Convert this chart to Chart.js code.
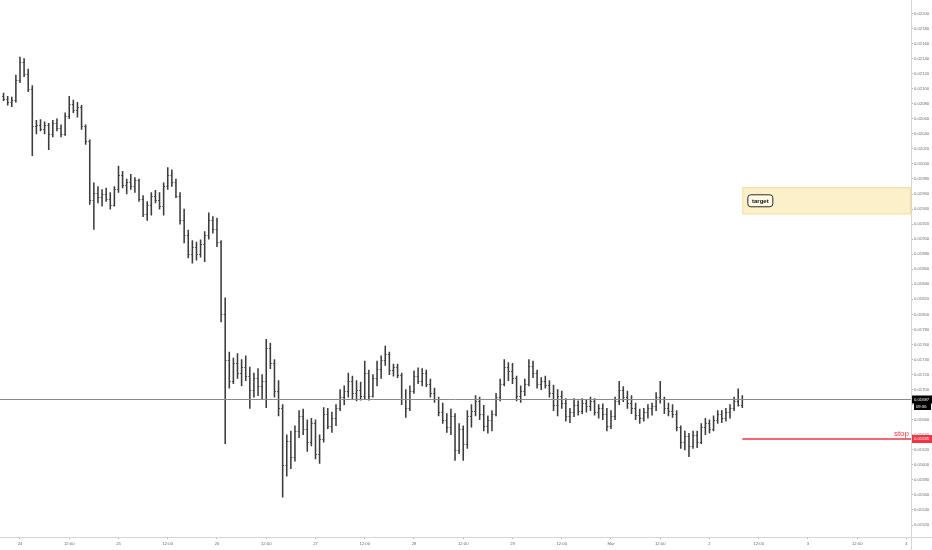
<!DOCTYPE html>
<html>
<head>
<meta charset="utf-8">
<script src="https://cdn.jsdelivr.net/npm/chart.js@4.4.0/dist/chart.umd.min.js"></script>
<style>
  html, body { margin: 0; padding: 0; background: #fff; }
  canvas { display: block; }
</style>
</head>
<body>
<canvas id="priceChart" width="932" height="550"></canvas>
<script>
// hourly bars, first bar is Feb 23 20:00 (hour -4 from Feb 24 00:00)
const startHour = -4;

// prices in units of 0.00001
const opens = [
  2090,2086,2082,2085,2112,2136,2120,2100,2050,2052,
  2047,2052,2040,2054,2048,2040,2064,2080,2072,2076,
  2050,2030,1952,1962,1956,1960,1954,1946,1966,1985,
  1972,1976,1970,1978,1954,1934,1945,1958,1952,1944,
  1970,1985,1976,1958,1926,1905,1880,1890,1880,1894,
  1905,1925,1914,1896,1800,1740,1712,1735,1722,1730,
  1718,1700,1715,1705,1712,1755,1735,1698,1675,1600,
  1632,1610,1645,1665,1648,1630,1655,1615,1635,1668,
  1652,1662,1675,1690,1698,1712,1695,1700,1692,1722,
  1692,1715,1728,1740,1748,1726,1730,1720,1688,1675,
  1698,1718,1712,1722,1708,1695,1688,1670,1660,1650,
  1665,1620,1648,1628,1665,1672,1685,1668,1652,1660,
  1668,1690,1708,1730,1725,1715,1692,1698,1708,1732,
  1722,1708,1712,1706,1696,1680,1692,1682,1665,1670,
  1680,1672,1682,1678,1685,1670,1676,1668,1652,1665,
  1685,1700,1690,1682,1676,1666,1662,1670,1675,1678,
  1690,1688,1676,1672,1668,1650,1630,1638,1625,1640,
  1630,1650,1655,1648,1660,1668,1662,1670,1675,1685,
  1680
];
const highs = [
  2094,2090,2089,2118,2142,2140,2126,2104,2058,2059,
  2056,2054,2058,2060,2052,2068,2090,2085,2082,2078,
  2052,2032,1975,1970,1966,1968,1962,1970,1997,1990,
  1980,1986,1982,1980,1958,1950,1962,1965,1962,1975,
  1995,1992,1980,1962,1940,1912,1898,1896,1899,1910,
  1935,1930,1928,1898,1822,1750,1742,1748,1740,1745,
  1730,1722,1728,1720,1767,1762,1740,1712,1680,1640,
  1645,1652,1672,1674,1660,1662,1660,1640,1676,1675,
  1670,1680,1700,1705,1722,1718,1712,1710,1738,1726,
  1720,1738,1745,1758,1750,1734,1734,1722,1700,1705,
  1725,1729,1728,1726,1714,1702,1690,1682,1668,1674,
  1668,1655,1652,1672,1680,1692,1690,1679,1665,1672,
  1695,1714,1740,1736,1735,1718,1705,1714,1740,1738,
  1726,1716,1718,1712,1706,1700,1698,1688,1675,1688,
  1685,1688,1686,1690,1688,1680,1681,1675,1672,1690,
  1711,1704,1698,1692,1682,1674,1675,1680,1682,1696,
  1711,1690,1682,1680,1672,1652,1645,1642,1645,1645,
  1655,1662,1660,1665,1672,1672,1675,1680,1690,1701,
  1692
];
const lows = [
  2084,2078,2076,2082,2108,2116,2096,2011,2040,2044,
  2040,2019,2036,2044,2036,2038,2060,2068,2062,2046,
  2026,1946,1913,1948,1944,1950,1940,1944,1962,1968,
  1960,1966,1962,1950,1930,1925,1932,1948,1940,1932,
  1966,1970,1955,1920,1895,1875,1868,1872,1876,1870,
  1900,1908,1890,1790,1628,1702,1708,1715,1705,1712,
  1675,1690,1692,1688,1676,1728,1690,1665,1557,1585,
  1595,1605,1636,1640,1618,1625,1608,1602,1630,1648,
  1643,1652,1672,1680,1690,1688,1685,1686,1688,1686,
  1690,1705,1715,1732,1720,1718,1716,1680,1663,1672,
  1695,1708,1705,1704,1690,1683,1665,1655,1643,1640,
  1606,1615,1606,1622,1650,1665,1660,1645,1642,1645,
  1665,1685,1705,1712,1708,1685,1683,1692,1705,1716,
  1702,1700,1702,1690,1672,1665,1675,1658,1656,1664,
  1666,1668,1670,1672,1666,1662,1660,1645,1648,1660,
  1680,1684,1675,1668,1660,1655,1658,1662,1666,1672,
  1682,1668,1665,1663,1645,1622,1620,1611,1622,1623,
  1628,1640,1642,1645,1655,1656,1658,1662,1672,1678,
  1676
];
const closes = [
  2086,2082,2085,2112,2136,2120,2100,2050,2052,2047,
  2052,2040,2054,2048,2040,2064,2080,2072,2076,2050,
  2030,1952,1962,1956,1960,1954,1946,1966,1985,1972,
  1976,1970,1978,1954,1934,1945,1958,1952,1944,1970,
  1985,1976,1958,1926,1905,1880,1890,1880,1894,1905,
  1925,1914,1896,1800,1740,1712,1735,1722,1730,1718,
  1700,1715,1705,1712,1755,1735,1698,1675,1600,1632,
  1610,1645,1665,1648,1630,1655,1615,1635,1668,1652,
  1662,1675,1690,1698,1712,1695,1700,1692,1722,1692,
  1715,1728,1740,1748,1726,1730,1720,1688,1675,1698,
  1718,1712,1722,1708,1695,1688,1670,1660,1650,1665,
  1620,1648,1628,1665,1672,1685,1668,1652,1660,1668,
  1690,1708,1730,1725,1715,1692,1698,1708,1732,1722,
  1708,1712,1706,1696,1680,1692,1682,1665,1670,1680,
  1672,1682,1678,1685,1670,1676,1668,1652,1665,1685,
  1700,1690,1682,1676,1666,1662,1670,1675,1678,1690,
  1688,1676,1672,1668,1650,1630,1638,1625,1640,1630,
  1650,1655,1648,1660,1668,1662,1670,1675,1685,1680,
  1687
];

// x axis: hours from Feb 24 00:00, a label every 12 hours
const dayLabels = ['24', '25', '26', '27', '28', '29', 'Mar', '2', '3', '4'];
const halfDayLabel = '12:00';

const lastPrice = 0.01687;
const lastPriceTimer = '09:36';
const stopPrice = 0.01635;
const stopLabel = 'stop';
const targetLow = 0.01933;
const targetHigh = 0.01969;
const targetLabel = 'target';
const zoneStartHour = 176;

const unit = 100000;
const barColor = '#3c3c3c';
const axisFont = { family: 'Liberation Sans', size: 4.2 };

const bars = lows.map((lo, i) => ({ x: startHour + i, y: [lo / unit, highs[i] / unit] }));

// open/close ticks on each bar
const ohlcTicks = {
    id: 'ohlcTicks',
    afterDatasetsDraw(chart) {
        const ctx = chart.ctx;
        const yScale = chart.scales.y;
        const meta = chart.getDatasetMeta(0);
        ctx.save();
        ctx.strokeStyle = barColor;
        ctx.lineWidth = 0.9;
        ctx.beginPath();
        meta.data.forEach((bar, i) => {
            const yo = Math.round(yScale.getPixelForValue(opens[i] / unit)) + 0.5;
            const yc = Math.round(yScale.getPixelForValue(closes[i] / unit)) + 0.5;
            ctx.moveTo(bar.x - 1.4, yo);
            ctx.lineTo(bar.x, yo);
            ctx.moveTo(bar.x, yc);
            ctx.lineTo(bar.x + 1.4, yc);
        });
        ctx.stroke();
        ctx.restore();
    }
};

function labelBox(ctx, x, yc, w, h, fill, text, color) {
    ctx.fillStyle = fill;
    ctx.fillRect(x, yc - h / 2, w, h);
    ctx.fillStyle = color;
    ctx.font = '4.2px "Liberation Sans"';
    ctx.textAlign = 'left';
    ctx.textBaseline = 'middle';
    ctx.fillText(text, x + 2, yc + 0.3);
}

// target zone, price line, stop line and their axis tags
const annotations = {
    id: 'annotations',
    beforeDatasetsDraw(chart) {
        const { ctx, chartArea, scales: { x, y } } = chart;
        const left = x.getPixelForValue(zoneStartHour);
        const top = y.getPixelForValue(targetHigh);
        const bottom = y.getPixelForValue(targetLow);
        ctx.save();
        ctx.fillStyle = 'rgba(249, 222, 140, 0.45)';
        ctx.fillRect(left, top, chartArea.right - left, bottom - top);
        ctx.strokeStyle = 'rgba(235, 200, 110, 0.5)';
        ctx.lineWidth = 1;
        ctx.strokeRect(left + 0.5, top + 0.5, chartArea.right - left - 1, bottom - top - 1);
        // target tag
        const tx = left + 5, ty = (top + bottom) / 2;
        ctx.beginPath();
        ctx.roundRect(tx + 0.5, ty - 6, 25, 12, 3);
        ctx.fillStyle = 'rgba(255, 250, 230, 0.9)';
        ctx.fill();
        ctx.strokeStyle = '#2b2b2b';
        ctx.stroke();
        ctx.fillStyle = '#111';
        ctx.font = 'bold 6px "Liberation Sans"';
        ctx.textAlign = 'center';
        ctx.textBaseline = 'middle';
        ctx.fillText(targetLabel, tx + 13, ty + 0.5);
        ctx.restore();
    },
    afterDraw(chart) {
        const { ctx, chartArea, scales: { x, y } } = chart;
        ctx.save();
        // frame lines of the price and time scales
        ctx.strokeStyle = '#d6d6d6';
        ctx.lineWidth = 1;
        ctx.beginPath();
        ctx.moveTo(chartArea.right + 0.5, 0);
        ctx.lineTo(chartArea.right + 0.5, chart.height);
        ctx.moveTo(0, chartArea.bottom + 0.5);
        ctx.lineTo(chart.width, chartArea.bottom + 0.5);
        ctx.stroke();

        // last price line
        const yl = Math.round(y.getPixelForValue(lastPrice)) + 0.5;
        ctx.strokeStyle = '#8a8a8a';
        ctx.beginPath();
        ctx.moveTo(chartArea.left, yl);
        ctx.lineTo(chartArea.right, yl);
        ctx.stroke();

        // stop line
        const ys = Math.round(y.getPixelForValue(stopPrice));
        const sx = x.getPixelForValue(zoneStartHour);
        ctx.fillStyle = '#f23645';
        ctx.fillRect(sx, ys - 0.75, chartArea.right - sx, 1.5);
        ctx.font = '8px "Liberation Sans"';
        ctx.textAlign = 'right';
        ctx.textBaseline = 'bottom';
        ctx.fillText(stopLabel, chartArea.right - 2, ys - 1);

        // axis tags
        const ax = chartArea.right + 1;
        labelBox(ctx, ax, yl, chart.width - ax, 8, '#000', lastPrice.toFixed(5), '#fff');
        labelBox(ctx, ax + 2, yl + 7, 17, 7, '#000', lastPriceTimer, '#fff');
        labelBox(ctx, ax, ys, chart.width - ax, 8, '#f23645', stopPrice.toFixed(5), '#fff');
        ctx.restore();
    }
};

new Chart(document.getElementById('priceChart'), {
    type: 'bar',
    data: {
        datasets: [
            {
                data: bars,
                backgroundColor: barColor,
                borderWidth: 0,
                barThickness: 0.9,
            },
        ],
    },
    options: {
        responsive: false,
        animation: false,
        layout: { padding: 0 },
        plugins: {
            legend: { display: false },
            tooltip: { enabled: false },
        },
        scales: {
            x: {
                type: 'linear',
                offset: false,
                min: -4.87,
                max: 217.1,
                grid: { display: true, drawOnChartArea: false, drawTicks: true, tickLength: 2, color: '#b0b0b0', offset: false },
                border: { display: false },
                ticks: {
                    stepSize: 12,
                    includeBounds: false,
                    autoSkip: false,
                    maxRotation: 0,
                    maxTicksLimit: 100,
                    padding: 2,
                    color: '#6b6b6b',
                    font: axisFont,
                    callback: (v) => (v % 24 === 0 ? dayLabels[v / 24] : halfDayLabel),
                },
                afterFit: (scale) => { scale.height = 13; },
            },
            y: {
                position: 'right',
                min: 0.015041,
                max: 0.022132,
                grid: { display: true, drawOnChartArea: false, drawTicks: true, tickLength: 2, color: '#b0b0b0' },
                border: { display: false },
                ticks: {
                    stepSize: 0.0002,
                    includeBounds: false,
                    autoSkip: false,
                    maxTicksLimit: 100,
                    padding: 1,
                    color: '#6b6b6b',
                    font: axisFont,
                    callback: (v) => v.toFixed(5),
                },
                afterFit: (scale) => { scale.width = 21; },
            },
        },
    },
    plugins: [ohlcTicks, annotations],
});
</script>
</body>
</html>
